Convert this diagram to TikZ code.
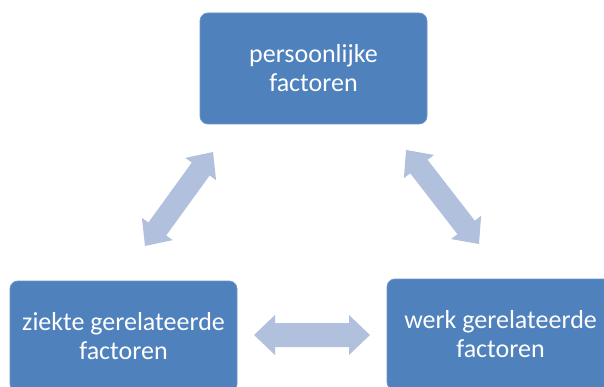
\documentclass[tikz,border=0pt]{standalone}
\usepackage{fontspec}
\setmainfont{Carlito}
\definecolor{boxblue}{HTML}{4F81BD}
\definecolor{boxedge}{HTML}{6E97C9}
\definecolor{arrowblue}{HTML}{B1C1DD}
\begin{document}
\begin{tikzpicture}[x=1pt,y=1pt,
  factorbox/.style={rectangle, rounded corners=8pt, fill=boxblue, draw=boxedge, line width=0.8pt,
    minimum width=227pt, minimum height=111pt, align=center, text=white,
    font=\fontsize{26}{29}\selectfont, inner sep=4pt},
  blockarrow/.style={fill=arrowblue, draw=none}]
\clip (0,0) rectangle (604,-387);
\fill[white] (0,0) rectangle (604,-387);
\node[factorbox] (top) at (313.5,-68.5) {persoonlijke\\factoren};
\node[factorbox] (left) at (123.5,-336.5) {ziekte gerelateerde\\factoren};
\node[factorbox] (right) at (500.5,-334.5) {werk gerelateerde\\factoren};
% left diagonal double arrow
\coordinate (la) at (179,-199);
\begin{scope}[shift={(la)}, rotate=54.1]
\path[blockarrow] (-58,0) -- (-37,19) -- (-37,11) -- (37,11) -- (37,19) -- (58,0) -- (37,-19) -- (37,-11) -- (-37,-11) -- (-37,-19) -- cycle;
\end{scope}
% right diagonal double arrow
\coordinate (ra) at (442.5,-197);
\begin{scope}[shift={(ra)}, rotate=-52.2]
\path[blockarrow] (-59.5,0) -- (-38.5,19) -- (-38.5,11) -- (38.5,11) -- (38.5,19) -- (59.5,0) -- (38.5,-19) -- (38.5,-11) -- (-38.5,-11) -- (-38.5,-19) -- cycle;
\end{scope}
% horizontal double arrow
\coordinate (ha) at (312,-335);
\begin{scope}[shift={(ha)}]
\path[blockarrow] (-58,0) -- (-37,20) -- (-37,12) -- (37,12) -- (37,20) -- (58,0) -- (37,-20) -- (37,-12) -- (-37,-12) -- (-37,-20) -- cycle;
\end{scope}
\end{tikzpicture}
\end{document}
